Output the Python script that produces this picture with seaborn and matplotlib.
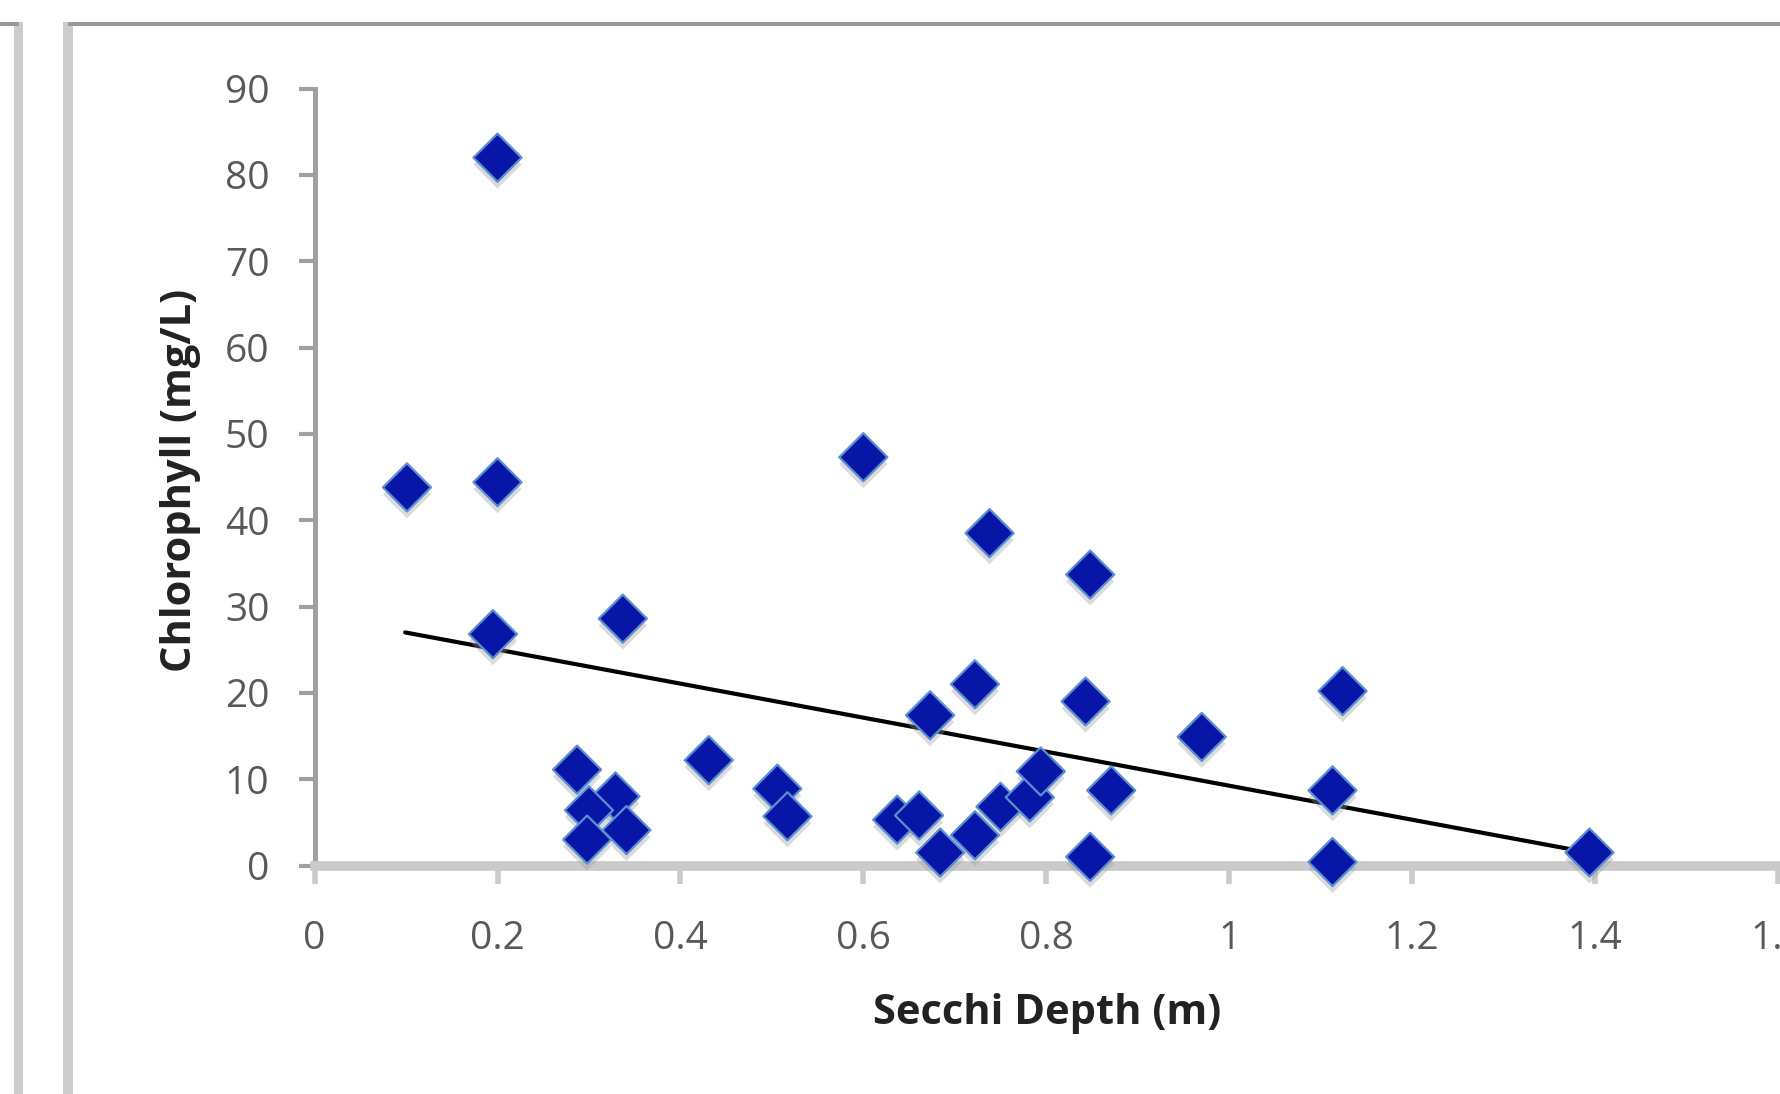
import matplotlib
matplotlib.use("Agg")
import matplotlib.pyplot as plt
import matplotlib.patheffects as pe
from matplotlib.patches import Rectangle
import seaborn as sns

# Secchi depth (m) vs chlorophyll
secchi = [0.101, 0.200, 0.200, 0.195, 0.337, 0.287, 0.329, 0.300, 0.298, 0.341,
          0.431, 0.506, 0.517, 0.600, 0.637, 0.661, 0.673, 0.684, 0.722, 0.722,
          0.738, 0.750, 0.782, 0.794, 0.843, 0.848, 0.848, 0.871, 0.970, 1.113,
          1.113, 1.124, 1.394]
chlorophyll = [43.8, 82.0, 44.4, 26.8, 28.6, 11.1, 8.0, 6.4, 3.0, 4.1,
               12.2, 8.9, 5.7, 47.3, 5.3, 5.8, 17.4, 1.5, 21.0, 3.5,
               38.5, 6.8, 7.9, 10.9, 19.0, 33.7, 1.0, 8.7, 14.9, 8.7,
               0.4, 20.2, 1.5]

# linear trendline ends as drawn
trend_x = [0.099, 1.393]
trend_y = [27.0, 1.5]

x_ticks = [0, 0.2, 0.4, 0.6, 0.8, 1.0, 1.2, 1.4, 1.6]
x_labels = ["0", "0.2", "0.4", "0.6", "0.8", "1", "1.2", "1.4", "1.6"]
y_ticks = [0, 10, 20, 30, 40, 50, 60, 70, 80, 90]

sns.set_style("white")
plt.rcParams["font.family"] = ["Open Sans", "DejaVu Sans"]

W, H = 1781, 1094
fig = plt.figure(figsize=(W / 100, H / 100), dpi=100)
ax = fig.add_axes([314.6 / W, 1 - 865.5 / H, 1463.3 / W, 776.9 / H])

# window frame bits around the chart
def px_rect(x0, y0, x1, y1, color):
    fig.add_artist(Rectangle((x0 / W, 1 - y1 / H), (x1 - x0) / W, (y1 - y0) / H,
                             transform=fig.transFigure, color=color, lw=0))

px_rect(14, 22, 23, H, "#cccccc")
px_rect(63, 22, 73, H, "#cccccc")
px_rect(0, 22, 19, 26, "#999999")
px_rect(68, 22, W, 26, "#999999")

sns.lineplot(x=trend_x, y=trend_y, color="black", linewidth=3, ax=ax, zorder=3)

sns.scatterplot(x=secchi, y=chlorophyll, marker="D", s=600, color="#0816a8",
                edgecolor="#5b8fd1", linewidth=1.6, ax=ax, zorder=4, clip_on=False)
ax.collections[-1].set_path_effects([
    pe.SimplePatchShadow(offset=(0, -5), shadow_rgbFace="#9a9a9a", alpha=0.35),
    pe.Normal()])

ax.set_xlim(0, 1.6)
ax.set_ylim(0, 90)
ax.set_xticks(x_ticks)
ax.set_xticklabels(x_labels)
ax.set_yticks(y_ticks)

for side in ["top", "right"]:
    ax.spines[side].set_visible(False)
ax.spines["left"].set_color("#a0a0a0")
ax.spines["left"].set_linewidth(3.6)
ax.spines["bottom"].set_color("#cacaca")
ax.spines["bottom"].set_linewidth(7)

ax.tick_params(axis="y", direction="out", length=11.5, width=3, color="#a0a0a0",
               labelsize=28, labelcolor="#595959", pad=21, left=True)
ax.tick_params(axis="x", direction="out", length=13, width=4, color="#cacaca",
               labelsize=28, labelcolor="#595959", pad=26, bottom=True)

ax.set_xlabel("Secchi Depth (m)", fontsize=30, fontweight="bold", color="#222222")
ax.set_ylabel("Chlorophyll (mg/L)", fontsize=30, fontweight="bold", color="#222222")
ax.xaxis.set_label_coords(0.5005, -0.164)
ax.yaxis.set_label_coords(-0.0775, 0.496)

fig.savefig("out.png", dpi=100)
